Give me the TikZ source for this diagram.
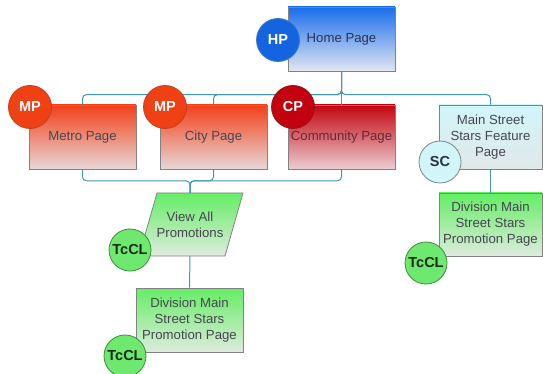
\documentclass[tikz,border=0pt]{standalone}
\usepackage{fontspec}
\setmainfont{Liberation Sans}
\usetikzlibrary{calc}
\definecolor{conn}{RGB}{64,150,178}
\definecolor{boxline}{RGB}{130,130,130}
\definecolor{boxtext}{RGB}{70,70,80}
\definecolor{homeTop}{RGB}{25,110,235}
\definecolor{homeBot}{RGB}{225,230,242}
\definecolor{homeText}{RGB}{40,50,90}
\definecolor{redTop}{RGB}{242,65,25}
\definecolor{redBot}{RGB}{232,215,215}
\definecolor{commTop}{RGB}{195,5,15}
\definecolor{commBot}{RGB}{235,205,210}
\definecolor{commText}{RGB}{100,40,50}
\definecolor{cyanTop}{RGB}{208,246,250}
\definecolor{cyanBot}{RGB}{225,232,232}
\definecolor{greenTop}{RGB}{100,238,100}
\definecolor{greenBot}{RGB}{222,235,222}
\definecolor{hpFill}{RGB}{20,100,225}
\definecolor{hpLine}{RGB}{60,120,200}
\definecolor{mpFill}{RGB}{240,65,20}
\definecolor{mpLine}{RGB}{200,60,30}
\definecolor{cpFill}{RGB}{195,0,15}
\definecolor{cpLine}{RGB}{150,20,20}
\definecolor{scFill}{RGB}{210,245,250}
\definecolor{scLine}{RGB}{120,135,140}
\definecolor{scText}{RGB}{40,50,60}
\definecolor{tcFill}{RGB}{110,232,110}
\definecolor{tcLine}{RGB}{60,140,60}
\definecolor{tcText}{RGB}{20,45,20}
\begin{document}
\begin{tikzpicture}[x=1pt,y=-1pt,
  pagebox/.style={draw=boxline, line width=0.8pt, minimum width=107pt, minimum height=64pt,
    inner sep=0pt, align=center, font=\fontsize{13.2}{16}\selectfont, text=boxtext},
  redbox/.style={pagebox, top color=redTop, bottom color=redBot},
  greenbox/.style={pagebox, top color=greenTop, bottom color=greenBot},
  badge/.style={circle, minimum size=43pt, inner sep=0pt, line width=0.8pt,
    font=\bfseries\fontsize{14.5}{14.5}\selectfont},
  hpbadge/.style={badge, fill=hpFill, draw=hpLine, text=white},
  mpbadge/.style={badge, fill=mpFill, draw=mpLine, text=white},
  cpbadge/.style={badge, fill=cpFill, draw=cpLine, text=white},
  scbadge/.style={badge, fill=scFill, draw=scLine, text=scText},
  tcbadge/.style={badge, fill=tcFill, draw=tcLine, text=tcText},
  link/.style={draw=conn, line width=1pt, rounded corners=4pt}]
\useasboundingbox (0,0) rectangle (543,374);

% page boxes
\node[pagebox, top color=homeTop, bottom color=homeBot, text=homeText] (home) at (341.5,39) {Home Page};
\node[redbox] (metro) at (82.5,137) {Metro Page};
\node[redbox] (city) at (213.5,137) {City Page};
\node[pagebox, top color=commTop, bottom color=commBot, text=commText] (comm) at (341.5,137) {Community Page};
\node[pagebox, minimum width=103pt, top color=cyanTop, bottom color=cyanBot] (mainst) at (490.5,137) {Main Street\\Stars Feature\\Page};
\node[greenbox, minimum width=103pt, minimum height=63pt] (divr) at (490.5,224.5) {Division Main\\Street Stars\\Promotion Page};
\node[greenbox] (divl) at (189.5,320) {Division Main\\Street Stars\\Promotion Page};

% view all promotions (parallelogram)
\draw[boxline, line width=0.8pt, top color=greenTop, bottom color=greenBot]
  (139,256) -- (225,256) -- (243,193) -- (157,193) -- cycle;
\node[inner sep=0pt, minimum width=86pt, minimum height=63pt, align=center,
  font=\fontsize{13.2}{16}\selectfont, text=boxtext] (va) at (190,224.5) {View All\\Promotions};

% connectors
\draw[link] (home.south) |- ($(metro.north)+(0,-10)$) -- (metro.north);
\draw[link] (home.south) |- ($(city.north)+(0,-10)$) -- (city.north);
\draw[link] (home.south) -- (comm.north);
\draw[link] (home.south) |- ($(mainst.north)+(0,-10)$) -- (mainst.north);
\draw[link] (metro.south) |- ($(va.north)+(0,-12)$) -- (va.north);
\draw[link] (city.south) |- ($(va.north)+(0,-12)$) -- (va.north);
\draw[link] (comm.south) |- ($(va.north)+(0,-12)$) -- (va.north);
\draw[link] (va.south) -- (divl.north);
\draw[link] (mainst.south) -- (divr.north);

% badges
\node[hpbadge] (hp) at (278,40) {HP};
\node[mpbadge] (mp1) at (30,107) {MP};
\node[mpbadge] (mp2) at (165,107) {MP};
\node[cpbadge] (cp) at (293,107) {CP};
\node[scbadge, minimum size=42pt] (sc) at (440,162) {SC};
\node[tcbadge, minimum size=42pt] (tc1) at (130,250) {TcCL};
\node[tcbadge, minimum size=42pt] (tc2) at (125,356) {TcCL};
\node[tcbadge, minimum size=42pt] (tc3) at (426,263) {TcCL};
\end{tikzpicture}
\end{document}
